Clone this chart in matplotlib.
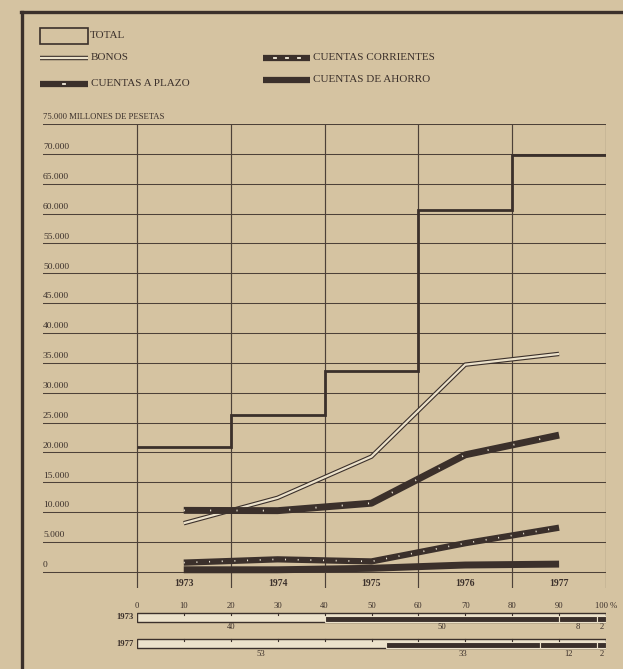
import matplotlib.pyplot as plt
import numpy as np

# values (millones de pesetas)
years = [1973, 1974, 1975, 1976, 1977]
total = [20900, 26300, 33700, 60600, 69800]
bonos = [8150, 12400, 19300, 34700, 36500]
plazo = [10300, 10250, 11500, 19600, 22900]
corrientes = [1550, 2100, 1750, 4800, 7400]
ahorro = [350, 350, 600, 1150, 1300]

y_ticks = [0, 5000, 10000, 15000, 20000, 25000, 30000, 35000,
           40000, 45000, 50000, 55000, 60000, 65000, 70000]
y_tick_labels = ["0", "5.000", "10.000", "15.000", "20.000", "25.000",
                 "30.000", "35.000", "40.000", "45.000", "50.000",
                 "55.000", "60.000", "65.000", "70.000"]

# structure in % (bonos, plazo, corrientes, ahorro)
share_years = ["1973", "1977"]
shares = [[40, 50, 8, 2],
          [53, 33, 12, 2]]
pct_ticks = [0, 10, 20, 30, 40, 50, 60, 70, 80, 90, 100]

BG = "#d5c3a1"
INK = "#3b302b"
GRID = "#4d4138"
LIGHT = "#ece2cb"
DOT = "#f4eddc"
serif = ["Liberation Serif", "DejaVu Serif"]

fig = plt.figure(figsize=(6.23, 6.69), dpi=100)
fig.patch.set_facecolor(BG)

# ── main chart ────────────────────────────────────────────────────────────────
ax = fig.add_axes([43 / 623, 1 - 588 / 669, 563 / 623, 464 / 669])
ax.set_facecolor(BG)
ax.set_xlim(1971.5, 1977.5)
ax.set_ylim(-2700, 75000)
for s in ax.spines.values():
    s.set_visible(False)
ax.set_xticks([])
ax.set_yticks([])

for v in y_ticks + [75000]:
    ax.plot([1971.5, 1977.5], [v, v], color=GRID, lw=0.75, zorder=1)
edges = [y - 0.5 for y in years] + [years[-1] + 0.5]
for e in edges:
    ax.plot([e, e], [-2700, 75000], color=GRID, lw=0.85, zorder=1)

for v, lab in zip(y_ticks, y_tick_labels):
    ax.text(1971.5, v + 450, lab, ha="left", va="bottom", fontsize=6.8,
            family=serif, color=INK)
ax.text(1971.5, 75000 + 500, "75.000 MILLONES DE PESETAS", ha="left",
        va="bottom", fontsize=6.2, family=serif, color=INK)
for y in years:
    ax.text(y, -1900, str(y), ha="center", va="center", fontsize=7,
            family=serif, color=INK, fontweight="bold")

# total as steps
ax.stairs(total, edges, baseline=None, color=INK, lw=2.0, zorder=3)

# bonos: hollow double line
ax.plot(years, bonos, color=INK, lw=3.2, zorder=4, solid_capstyle="butt")
ax.plot(years, bonos, color=LIGHT, lw=1.6, zorder=4, solid_capstyle="butt")

# cuentas a plazo: thick with sparse white dots
ax.plot(years, plazo, color=INK, lw=5, zorder=5, solid_capstyle="butt")
ax.plot(years, plazo, color=DOT, lw=1.3, ls=(0, (0.6, 14)), zorder=6)

# cuentas corrientes: thick with dense white dots
ax.plot(years, corrientes, color=INK, lw=4.5, zorder=5,
        solid_capstyle="butt")
ax.plot(years, corrientes, color=DOT, lw=1.2, ls=(0, (0.6, 7)), zorder=6)

# cuentas de ahorro: solid thick
ax.plot(years, ahorro, color=INK, lw=5, zorder=5, solid_capstyle="butt")

# ── structure bars ────────────────────────────────────────────────────────────
bx = fig.add_axes([137 / 623, 1 - 665 / 669, 469 / 623, 70 / 669])
bx.patch.set_alpha(0)
bx.set_xlim(0, 100)
bx.set_ylim(70, 0)
bx.axis("off")

for t in pct_ticks:
    lab = "100 %" if t == 100 else str(t)
    bx.text(t, 11, lab, ha="center", va="center", fontsize=6.2,
            family=serif, color=INK)

bar_y = [22, 48.5]
for yr, sh, yc in zip(share_years, shares, bar_y):
    left = np.concatenate([[0], np.cumsum(sh)[:-1]])
    bx.barh(yc, 100, height=9, left=0, color=LIGHT, edgecolor=INK,
            lw=1.0, zorder=2)
    bx.barh(yc + 1.5, sh[1:], height=6, left=left[1:], color=INK,
            edgecolor=LIGHT, lw=0.8, zorder=3)
    for t in pct_ticks[1:-1]:
        bx.plot([t, t], [yc - 4.5, yc - 2.5], color=INK, lw=0.8, zorder=4)
    bx.text(-0.8, yc, yr, ha="right", va="center", fontsize=6.2,
            family=serif, color=INK, fontweight="bold")
    for l, w in zip(left, sh):
        bx.text(l + w / 2, yc + 10, str(w), ha="center", va="center",
                fontsize=6.2, family=serif, color=INK)

# ── legend and frame (pixel overlay) ──────────────────────────────────────────
lg = fig.add_axes([0, 0, 1, 1])
lg.set_xlim(0, 623)
lg.set_ylim(669, 0)
lg.axis("off")
lg.patch.set_alpha(0)

lg.plot([22, 22], [12, 669], color=INK, lw=2.4)
lg.plot([21, 623], [12, 12], color=INK, lw=2.4)

lg.add_patch(plt.Rectangle((40, 28), 48, 16, fill=False, edgecolor=INK,
                           lw=1.2))
lg.plot([40, 88], [58, 58], color=INK, lw=3.2, solid_capstyle="butt")
lg.plot([40, 88], [58, 58], color=LIGHT, lw=1.6, solid_capstyle="butt")
lg.plot([40, 88], [84, 84], color=INK, lw=4.5, solid_capstyle="butt")
lg.plot([63, 65], [84, 84], color=DOT, lw=1.3)
lg.plot([263, 310], [58, 58], color=INK, lw=4.5, solid_capstyle="butt")
for xd in [274, 286, 298]:
    lg.plot([xd, xd + 2], [58, 58], color=DOT, lw=1.3)
lg.plot([263, 310], [80, 80], color=INK, lw=4.5, solid_capstyle="butt")

for x, y, t in [(90, 36, "TOTAL"), (91, 58, "BONOS"),
                (91, 84, "CUENTAS A PLAZO"),
                (313, 58, "CUENTAS CORRIENTES"),
                (313, 80, "CUENTAS DE AHORRO")]:
    lg.text(x, y, t, ha="left", va="center", fontsize=8, family=serif,
            color=INK)

fig.savefig("out.png", dpi=100, facecolor=BG)
